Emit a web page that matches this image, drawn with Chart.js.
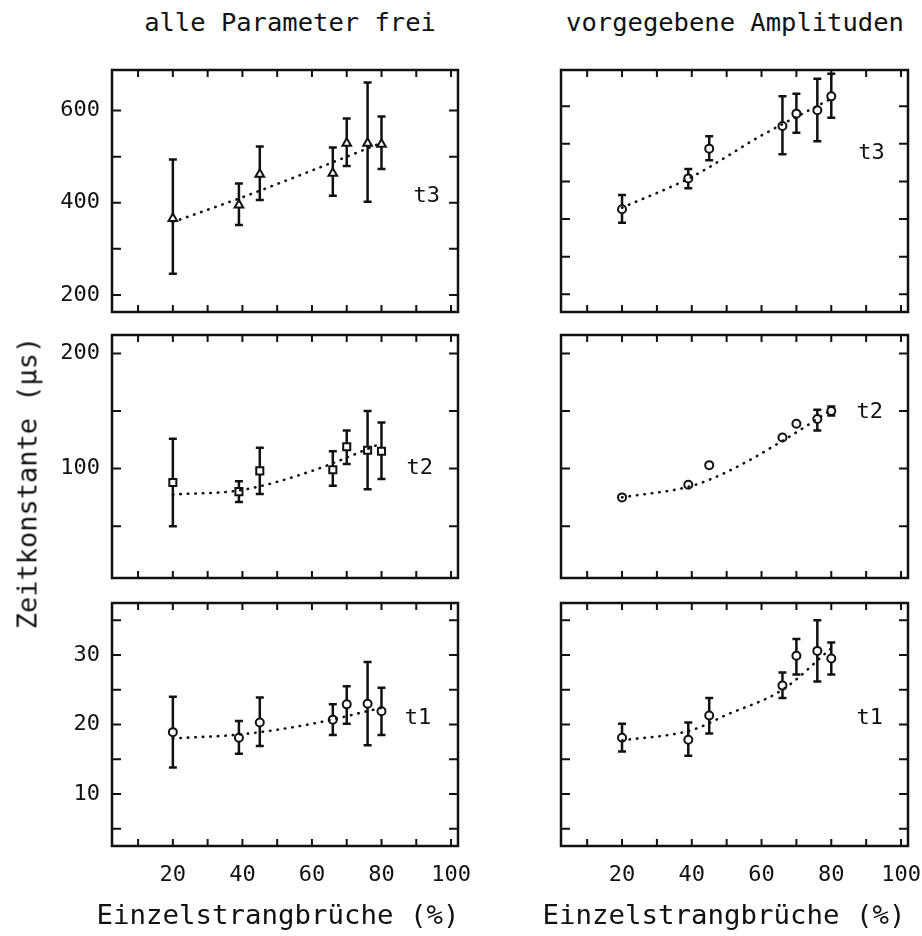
<!DOCTYPE html>
<html>
<head>
<meta charset="utf-8">
<script src="https://cdn.jsdelivr.net/npm/chart.js@4.4.0/dist/chart.umd.min.js"></script>
<style>
  html, body { margin: 0; padding: 0; background: #fff; }
  #wrap { position: relative; width: 922px; height: 936px; overflow: hidden; font-family: 'DejaVu Sans Mono', monospace; color: #111; }
  .box { position: absolute; }
  .txt { position: absolute; white-space: nowrap; line-height: 1; transform: translate(-50%, -50%); }
</style>
</head>
<body>
<div id="wrap">
  <div class="box" style="left:0;top:60px;width:480px;height:262px"><canvas id="c1"></canvas></div>
  <div class="box" style="left:480px;top:60px;width:442px;height:262px"><canvas id="c2"></canvas></div>
  <div class="box" style="left:0;top:325px;width:480px;height:263px"><canvas id="c3"></canvas></div>
  <div class="box" style="left:480px;top:325px;width:442px;height:263px"><canvas id="c4"></canvas></div>
  <div class="box" style="left:0;top:593px;width:480px;height:343px"><canvas id="c5"></canvas></div>
  <div class="box" style="left:480px;top:593px;width:442px;height:343px"><canvas id="c6"></canvas></div>

  <div class="txt" style="left:290px;top:23px;font-size:25.5px">alle Parameter frei</div>
  <div class="txt" style="left:735px;top:23px;font-size:25.5px">vorgegebene Amplituden</div>
  <div class="txt" style="left:27px;top:483px;font-size:27px;transform:translate(-50%,-50%) rotate(-90deg)">Zeitkonstante (µs)</div>
  <div class="txt" style="left:278px;top:915px;font-size:27.4px">Einzelstrangbrüche (%)</div>
  <div class="txt" style="left:724px;top:915px;font-size:27.4px">Einzelstrangbrüche (%)</div>
</div>
<script>
// Messpunkte (Einzelstrangbrueche in %)
const xPct = [20, 39, 45, 66, 70, 76, 80];
const xTicks = [10, 20, 30, 40, 50, 60, 70, 80, 90, 100];
const xTickLabels = [20, 40, 60, 80, 100];

// t3 - alle Parameter frei
const t3FreeVal = [366, 395, 462, 464, 529, 529, 527];
const t3FreeLow = [246, 352, 406, 415, 480, 402, 473];
const t3FreeHigh = [494, 442, 522, 520, 583, 661, 587];
const t3FreeFitX = [20, 40, 60, 80];
const t3FreeFitY = [358, 412, 470, 530];
// t3 - vorgegebene Amplituden
const t3FixVal = [426, 508, 587, 647, 680, 689, 726];
const t3FixLow = [390, 482, 556, 572, 629, 607, 669];
const t3FixHigh = [464, 533, 620, 726, 733, 773, 786];
const t3FixFitX = [20, 40, 60, 80];
const t3FixFitY = [430, 512, 622, 720];

// t2
const t2FreeVal = [88, 80, 98, 99, 119, 116, 115];
const t2FreeLow = [50, 71, 78, 85, 104, 82, 91];
const t2FreeHigh = [126, 89, 118, 115, 133, 150, 140];
const t2FreeFitX = [20, 40, 60, 80];
const t2FreeFitY = [77.5, 81.5, 98, 122];
const t2FixVal = [75, 86, 103, 127, 139, 143, 150];
const t2FixLow = [75, 86, 103, 127, 139, 133, 146];
const t2FixHigh = [75, 86, 103, 127, 139, 151, 154];
const t2FixFitX = [20, 40, 50, 66, 80];
const t2FixFitY = [75, 85, 97, 124, 151];

// t1
const t1FreeVal = [18.9, 18.1, 20.3, 20.7, 22.9, 23.0, 21.9];
const t1FreeLow = [13.8, 15.8, 16.9, 18.5, 20.1, 17.0, 18.5];
const t1FreeHigh = [24.0, 20.5, 23.9, 22.9, 25.5, 29.0, 25.3];
const t1FreeFitX = [20, 40, 60, 80];
const t1FreeFitY = [18.0, 18.6, 20.1, 22.4];
const t1FixVal = [18.1, 17.8, 21.3, 25.6, 29.9, 30.6, 29.5];
const t1FixLow = [16.1, 15.5, 18.7, 23.8, 27.2, 26.2, 27.2];
const t1FixHigh = [20.1, 20.3, 23.8, 27.5, 32.3, 35.0, 31.8];
const t1FixFitX = [20, 40, 50, 66, 80];
const t1FixFitY = [17.7, 19.2, 21.4, 25.0, 31.0];

// y-Achsen Ticks
const t3FreeTicks = [200, 300, 400, 500, 600];
const t3FreeTickLabels = [200, 400, 600];
const t3FixTicks = [200, 300, 400, 500, 600, 700];
const t2Ticks = [50, 100, 150, 200];
const t2TickLabels = [100, 200];
const t1Ticks = [5, 10, 15, 20, 25, 30, 35];
const t1TickLabels = [10, 20, 30];

const INK = '#111';
const FONT = "'DejaVu Sans Mono', monospace";

// Rahmen + Ticks nach innen auf allen vier Seiten
const frameTicks = {
  id: 'frameTicks',
  afterDatasetsDraw(chart) {
    const { ctx, chartArea: a, scales: { x, y } } = chart;
    ctx.save();
    ctx.strokeStyle = INK;
    ctx.lineWidth = 2;
    ctx.beginPath();
    x.ticks.forEach(t => {
      const px = x.getPixelForValue(t.value);
      ctx.moveTo(px, a.bottom); ctx.lineTo(px, a.bottom - 7);
      ctx.moveTo(px, a.top); ctx.lineTo(px, a.top + 7);
    });
    y.ticks.forEach(t => {
      const py = y.getPixelForValue(t.value);
      ctx.moveTo(a.left, py); ctx.lineTo(a.left + 9, py);
      ctx.moveTo(a.right, py); ctx.lineTo(a.right - 9, py);
    });
    ctx.stroke();
    ctx.lineWidth = 2.5;
    ctx.strokeRect(a.left, a.top, a.width, a.height);
    ctx.restore();
  }
};

// Fehlerbalken, vor den Markern gezeichnet
const errorBars = {
  id: 'errorBars',
  beforeDatasetDraw(chart, args) {
    const ds = chart.data.datasets[args.index];
    if (!ds.errLow) return;
    const { ctx, scales: { x, y } } = chart;
    ctx.save();
    ctx.strokeStyle = INK;
    ctx.lineWidth = 2.5;
    ds.data.forEach((p, i) => {
      if (ds.errHigh[i] - ds.errLow[i] < 1e-9) return;
      const px = x.getPixelForValue(p.x);
      const y1 = y.getPixelForValue(ds.errLow[i]);
      const y2 = y.getPixelForValue(ds.errHigh[i]);
      ctx.beginPath();
      ctx.moveTo(px, y1); ctx.lineTo(px, y2);
      ctx.moveTo(px - 4, y1); ctx.lineTo(px + 4, y1);
      ctx.moveTo(px - 4, y2); ctx.lineTo(px + 4, y2);
      ctx.stroke();
    });
    ctx.restore();
  }
};

// Beschriftung t1/t2/t3 im Diagramm
const panelLabel = {
  id: 'panelLabel',
  afterDatasetsDraw(chart, args, opts) {
    if (!opts.text) return;
    const { ctx, scales: { x, y } } = chart;
    ctx.save();
    ctx.fillStyle = INK;
    ctx.font = '22px ' + FONT;
    ctx.textAlign = 'center';
    ctx.textBaseline = 'middle';
    ctx.fillText(opts.text, x.getPixelForValue(opts.x), y.getPixelForValue(opts.y));
    ctx.restore();
  }
};

function makePanel(id, p) {
  const leftCol = p.col === 0;
  const lastRow = p.row === 2;
  new Chart(document.getElementById(id), {
    type: 'scatter',
    data: {
      datasets: [
        {
          type: 'line',
          data: p.fitX.map((x, i) => ({ x: x, y: p.fitY[i] })),
          borderColor: INK,
          borderWidth: 2.6,
          borderDash: [0.5, 7],
          borderCapStyle: 'round',
          pointRadius: 0,
          cubicInterpolationMode: 'monotone',
          fill: false
        },
        {
          type: 'scatter',
          data: xPct.map((x, i) => ({ x: x, y: p.val[i] })),
          errLow: p.low,
          errHigh: p.high,
          pointStyle: p.marker,
          pointRadius: p.marker === 'circle' ? 4 : 5,
          backgroundColor: '#fff',
          borderColor: INK,
          borderWidth: 2
        }
      ]
    },
    options: {
      animation: false,
      responsive: true,
      maintainAspectRatio: false,
      events: [],
      layout: {
        padding: { top: 10, bottom: lastRow ? 0 : 10, left: 0, right: leftCol ? 22 : 14 }
      },
      scales: {
        x: {
          type: 'linear',
          min: 2.5,
          max: 102,
          grid: { display: false, drawTicks: false },
          border: { display: false },
          afterBuildTicks: ax => { ax.ticks = xTicks.map(v => ({ value: v })); },
          afterFit: ax => { ax.height = lastRow ? 90 : 0; ax.paddingLeft = 0; ax.paddingRight = 0; },
          ticks: {
            display: lastRow,
            padding: 16,
            color: INK,
            font: { family: FONT, size: 22 },
            maxRotation: 0,
            autoSkip: false,
            callback: v => xTickLabels.includes(v) ? String(v) : ''
          }
        },
        y: {
          type: 'linear',
          min: p.ymin,
          max: p.ymax,
          grid: { display: false, drawTicks: false },
          border: { display: false },
          afterBuildTicks: ax => { ax.ticks = p.ticks.map(v => ({ value: v })); },
          afterFit: ax => { ax.width = leftCol ? 112 : 81; ax.paddingTop = 0; ax.paddingBottom = 0; },
          ticks: {
            display: leftCol,
            padding: 12,
            color: INK,
            font: { family: FONT, size: 22 },
            autoSkip: false,
            callback: v => (p.tickLabels || []).includes(v) ? String(v) : ''
          }
        }
      },
      plugins: {
        legend: { display: false },
        tooltip: { enabled: false },
        panelLabel: { text: p.label, x: p.lx, y: p.ly }
      }
    },
    plugins: [errorBars, frameTicks, panelLabel]
  });
}

makePanel('c1', { col: 0, row: 0, val: t3FreeVal, low: t3FreeLow, high: t3FreeHigh, fitX: t3FreeFitX, fitY: t3FreeFitY,
  marker: 'triangle', ymin: 163, ymax: 688, ticks: t3FreeTicks, tickLabels: t3FreeTickLabels, label: 't3', lx: 93, ly: 413 });
makePanel('c2', { col: 1, row: 0, val: t3FixVal, low: t3FixLow, high: t3FixHigh, fitX: t3FixFitX, fitY: t3FixFitY,
  marker: 'circle', ymin: 153, ymax: 796, ticks: t3FixTicks, label: 't3', lx: 91.5, ly: 574 });
makePanel('c3', { col: 0, row: 1, val: t2FreeVal, low: t2FreeLow, high: t2FreeHigh, fitX: t2FreeFitX, fitY: t2FreeFitY,
  marker: 'rect', ymin: 5, ymax: 216, ticks: t2Ticks, tickLabels: t2TickLabels, label: 't2', lx: 91, ly: 100 });
makePanel('c4', { col: 1, row: 1, val: t2FixVal, low: t2FixLow, high: t2FixHigh, fitX: t2FixFitX, fitY: t2FixFitY,
  marker: 'circle', ymin: 5, ymax: 216, ticks: t2Ticks, label: 't2', lx: 91, ly: 149 });
makePanel('c5', { col: 0, row: 2, val: t1FreeVal, low: t1FreeLow, high: t1FreeHigh, fitX: t1FreeFitX, fitY: t1FreeFitY,
  marker: 'circle', ymin: 2.5, ymax: 37.5, ticks: t1Ticks, tickLabels: t1TickLabels, label: 't1', lx: 90.5, ly: 20.9 });
makePanel('c6', { col: 1, row: 2, val: t1FixVal, low: t1FixLow, high: t1FixHigh, fitX: t1FixFitX, fitY: t1FixFitY,
  marker: 'circle', ymin: 2.5, ymax: 37.5, ticks: t1Ticks, label: 't1', lx: 91, ly: 20.9 });
</script>
</body>
</html>
